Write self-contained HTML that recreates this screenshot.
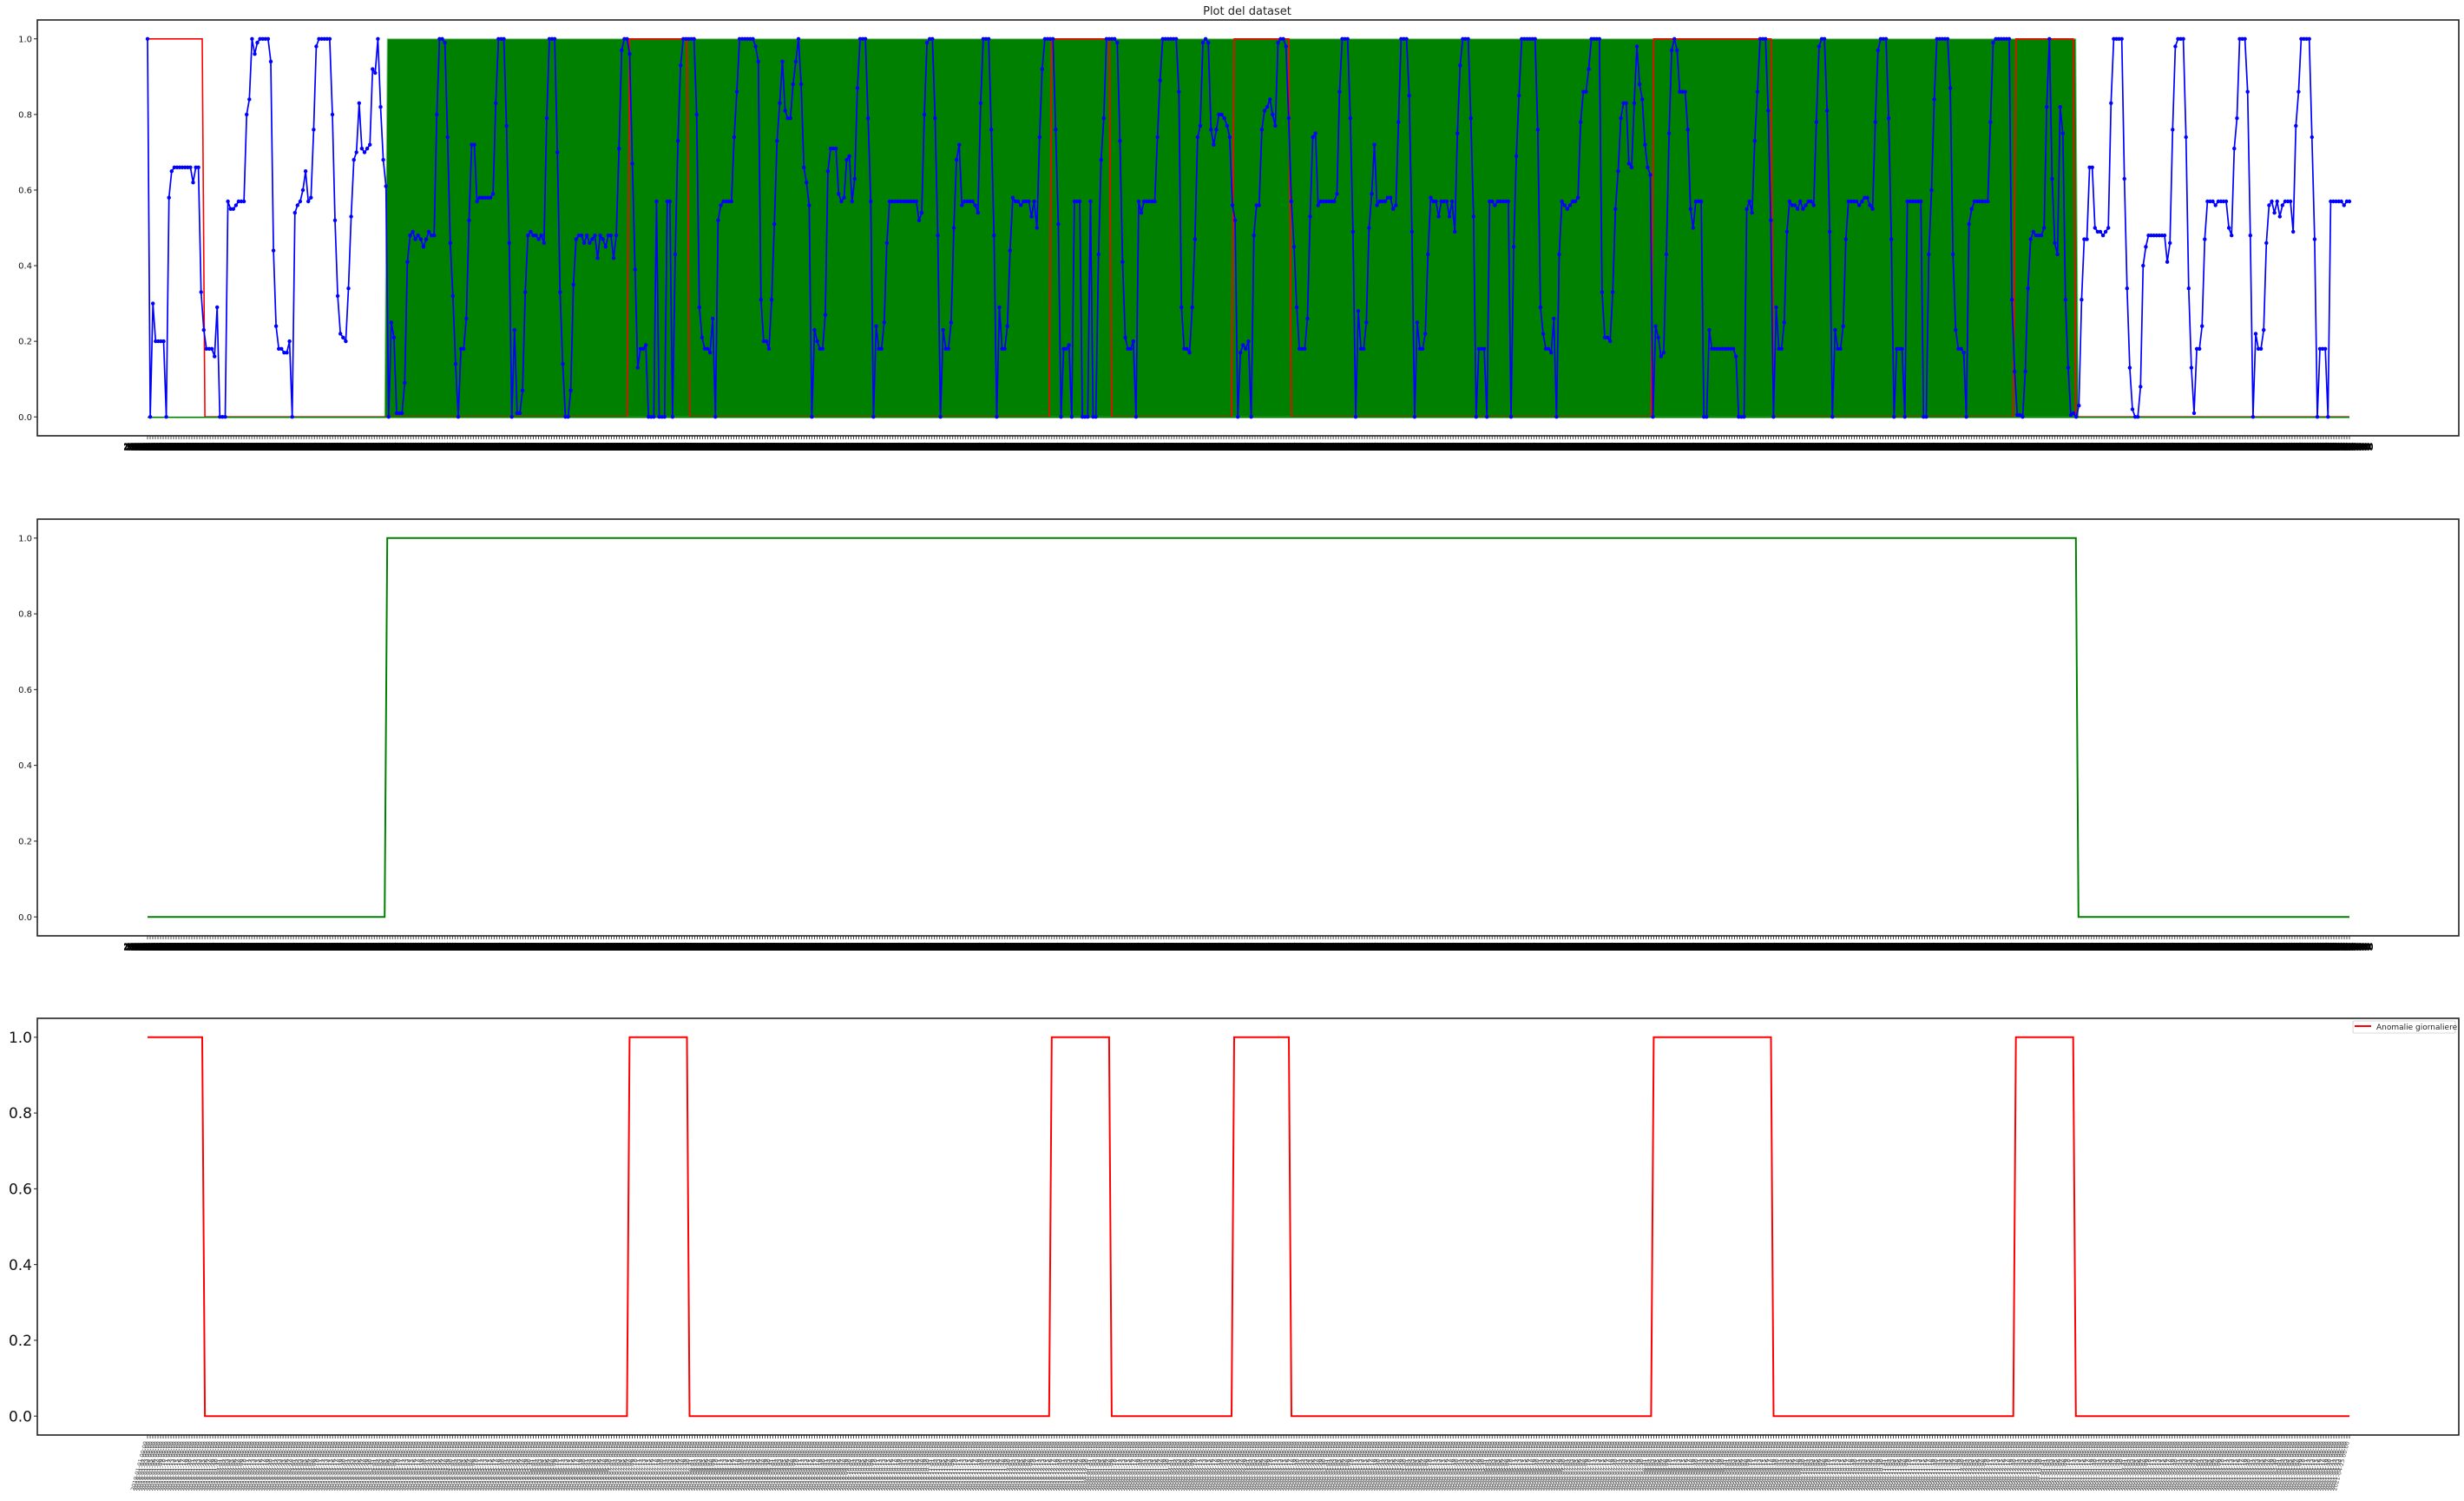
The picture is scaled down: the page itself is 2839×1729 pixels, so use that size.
<!DOCTYPE html>
<html><head><meta charset="utf-8"><title>Plot del dataset</title>
<style>html,body{margin:0;padding:0;background:#fff;}svg{display:block;font-family:"DejaVu Sans","Liberation Sans",sans-serif;}</style>
</head><body>
<svg id="fig" width="2839" height="1729" viewBox="0 0 2839 1729" xmlns="http://www.w3.org/2000/svg">
<rect x="0" y="0" width="2839" height="1729" fill="#fff"/>
<text x="1437" y="17" font-size="13" text-anchor="middle" fill="#222">Plot del dataset</text>
<g id="p1"></g>
<g id="p2"></g>
<g id="p3"></g>
</svg>
<script>
const NDAYS = 846;
const startDate = "2019-01-01";
const yTicks = [0.0, 0.2, 0.4, 0.6, 0.8, 1.0];
const yTickLabels = ["0.0", "0.2", "0.4", "0.6", "0.8", "1.0"];
const greenStart = 92;
const greenEnd = 740;
const anomalyStart = [0, 185, 347, 417, 578, 717];
const anomalyEnd = [21, 207, 369, 438, 623, 739];
const blueValues = [
1.0,0,0.3,0.2,0.2,0.2,0.2,0,0.58,0.65,0.66,0.66,0.66,0.66,0.66,0.66,0.66,0.62,0.66,0.66,
0.33,0.23,0.18,0.18,0.18,0.16,0.29,0,0,0,0.57,0.55,0.55,0.56,0.57,0.57,0.57,0.8,0.84,1.0,
0.96,0.99,1.0,1.0,1.0,1.0,0.94,0.44,0.24,0.18,0.18,0.17,0.17,0.2,0,0.54,0.56,0.57,0.6,0.65,
0.57,0.58,0.76,0.98,1,1,1,1,1,0.8,0.52,0.32,0.22,0.21,0.2,0.34,0.53,0.68,0.7,0.83,
0.71,0.7,0.71,0.72,0.92,0.91,1.0,0.82,0.68,0.61,0,0.25,0.21,
0.01,0.01,0.01,0.09,0.41,0.48,0.49,0.47,0.48,0.47,0.45,0.47,0.49,0.48,0.48,0.8,1.0,1.0,0.99,0.74,
0.46,0.32,0.14,0,0.18,0.18,0.26,0.52,0.72,0.72,0.57,0.58,0.58,0.58,0.58,0.58,0.59,0.83,1.0,1.0,
1.0,0.77,0.46,0,0.23,0.01,0.01,0.07,0.33,0.48,0.49,0.48,0.48,0.47,0.48,0.46,0.79,1.0,1.0,1.0,
0.7,0.33,0.14,0,0,0.07,0.35,0.47,0.48,0.48,0.46,0.48,0.46,0.47,0.48,0.42,0.48,0.47,0.45,0.48,
0.48,0.42,0.48,0.71,0.97,1,1,0.96,0.67,0.39,0.13,0.18,0.18,0.19,0,0,0,0.57,0,0,
0,0.57,0.57,0,0.43,0.73,0.93,1,1,1,1,1,0.8,0.29,0.21,0.18,0.18,0.17,0.26,0,
0.52,0.56,0.57,0.57,0.57,0.57,0.74,0.86,1,1,1,1,1,1,0.98,0.94,0.31,0.2,0.2,0.18,
0.31,0.51,0.73,0.83,0.94,0.81,0.79,0.79,0.88,0.94,1,0.88,0.66,0.62,0.56,0,0.23,0.2,0.18,0.18,
0.27,0.65,0.71,0.71,0.71,0.59,0.57,0.58,0.68,0.69,0.57,0.63,0.87,1,1,1,0.79,0.57,0,0.24,
0.18,0.18,0.25,0.46,0.57,0.57,0.57,0.57,0.57,0.57,0.57,0.57,0.57,0.57,0.57,0.52,0.54,0.8,0.99,1,
1,0.79,0.48,0,0.23,0.18,0.18,0.25,0.5,0.68,0.72,0.56,0.57,0.57,0.57,0.57,0.56,0.54,0.83,1,
1,1,0.76,0.48,0,0.29,0.18,0.18,0.24,0.44,0.58,0.57,0.57,0.56,0.57,0.57,0.57,0.53,0.57,0.5,
0.74,0.92,1,1,1,1,0.76,0.51,0,0.18,0.18,0.19,0,0.57,0.57,0.57,0,0,0,0.57,
0,0,0.43,0.68,0.79,1,1,1,1,0.99,0.73,0.41,0.21,0.18,0.18,0.2,0,0.57,0.54,0.57,
0.57,0.57,0.57,0.57,0.74,0.89,1,1,1,1,1,1,0.86,0.29,0.18,0.18,0.17,0.29,0.47,0.74,
0.77,0.99,1,0.99,0.76,0.72,0.76,0.8,0.8,0.79,0.77,0.74,
0.56,0.52,0,0.17,0.19,0.18,0.2,0,0.48,0.56,0.56,0.76,0.81,0.82,0.84,0.8,0.77,0.99,1,1,
0.98,0.79,0.57,0.45,0.29,0.18,0.18,0.18,0.26,0.53,0.74,0.75,0.56,0.57,0.57,0.57,0.57,0.57,0.57,0.59,
0.86,1,1,1,0.79,0.49,0,0.28,0.18,0.18,0.25,0.5,0.59,0.72,0.56,0.57,0.57,0.57,0.58,0.58,
0.55,0.56,0.78,1,1,1,0.85,0.49,0,0.25,0.18,0.18,0.22,0.43,0.58,0.57,0.57,0.53,0.57,0.57,
0.57,0.53,0.57,0.49,0.75,0.93,1,1,1,0.79,0.53,0,0.18,0.18,0.18,0,0.57,0.57,0.56,0.57,
0.57,0.57,0.57,0.57,0,0.45,0.69,0.85,1,1,1,1,1,1,0.76,0.29,0.22,0.18,0.18,0.17,
0.26,0,0.43,0.57,0.56,0.55,0.56,0.57,0.57,0.58,0.78,0.86,0.86,0.92,1,1,1,1,0.33,0.21,
0.21,0.2,0.33,0.55,0.65,0.79,0.83,0.83,0.67,0.66,0.83,0.98,0.88,0.84,0.72,0.66,0.64,0,0.24,0.21,
0.16,0.17,0.43,0.75,0.97,1,0.97,0.86,0.86,0.86,0.76,0.55,0.5,0.57,0.57,0.57,0,0,0.23,0.18,
0.18,0.18,0.18,0.18,0.18,0.18,0.18,0.18,0.16,0,0,0,0.55,0.57,0.54,0.73,0.86,1,1,1,
0.81,0.52,0,0.29,0.18,0.18,0.25,0.49,0.57,0.56,0.56,0.55,0.57,0.55,0.56,0.57,0.57,0.56,0.78,0.98,
1,1,0.81,0.49,0,0.23,0.18,
0.18,0.24,0.47,0.57,0.57,0.57,0.57,0.56,0.57,0.58,0.58,0.56,0.55,0.78,0.97,1,1,1,0.79,0.47,
0,0.18,0.18,0.18,0,0.57,0.57,0.57,0.57,0.57,0.57,0,0,0.43,0.6,0.84,1,1,1,1,
1,0.87,0.43,0.23,0.18,0.18,0.17,0,0.51,0.55,0.57,0.57,0.57,0.57,0.57,0.57,0.78,0.99,1,1,
1,1,1,1,0.31,0.12,0.005,0.005,0,0.12,0.34,0.47,0.49,0.48,0.48,0.48,0.5,0.82,1,0.63,
0.46,0.43,0.82,0.75,0.31,0.13,0.005,0.01,0,0.03,0.31,0.47,0.47,0.66,0.66,0.5,0.49,0.49,0.48,0.49,
0.5,0.83,1,1,1,1,0.63,0.34,0.13,0.02,0,0,0.08,0.4,0.45,0.48,0.48,0.48,0.48,0.48,
0.48,0.48,0.41,0.46,0.76,0.98,1,1,1,0.74,0.34,0.13,0.01,0.18,0.18,0.24,0.47,0.57,0.57,0.57,
0.56,0.57,0.57,0.57,0.57,0.5,0.48,0.71,0.79,1,1,1,0.86,0.48,0,0.22,0.18,0.18,0.23,0.46,
0.56,0.57,0.54,0.57,0.53,0.56,0.57,0.57,0.57,0.49,0.77,0.86,1,1,1,1,0.74,0.47,0,0.18,
0.18,0.18,0,0.57,0.57,0.57,0.57,0.57,0.56,0.57,0.57
];

const NS = "http://www.w3.org/2000/svg";
const X0 = 170, X1 = 2707;
function xScale(i){ return X0 + i * (X1 - X0) / (NDAYS - 1); }
const panels = [
  {id:"p1", top:23, bottom:502, tickFont:10, band:true},
  {id:"p2", top:598, bottom:1078, tickFont:10, band:true},
  {id:"p3", top:1173, bottom:1653, tickFont:17, band:false}
];
function yScaleFor(p){ const h = p.bottom - p.top; return v => p.bottom - (v + 0.05) / 1.1 * h; }
function el(tag, attrs, parent){ const e = document.createElementNS(NS, tag); for (const k in attrs) e.setAttribute(k, attrs[k]); parent.appendChild(e); return e; }
function dateLabel(i){ const d = new Date(Date.UTC(2019,0,1) + i*86400000); return d.toISOString().slice(0,16).replace("T"," "); }
function stepPoints(ys){
  const pts = [];
  for (let k = 0; k < anomalyStart.length; k++){
    const s = anomalyStart[k], e = anomalyEnd[k];
    if (s > 0) pts.push([s-1,0]);
    pts.push([s,1]); pts.push([e,1]); pts.push([e+1,0]);
  }
  pts.push([NDAYS-1,0]);
  return pts.map(p => xScale(p[0]).toFixed(1)+","+ys(p[1]).toFixed(1)).join(" ");
}
function greenPoints(ys){
  const pts = [[0,0],[greenStart-1,0],[greenStart,1],[greenEnd,1],[greenEnd+1,0],[NDAYS-1,0]];
  return pts.map(p => xScale(p[0]).toFixed(1)+","+ys(p[1]).toFixed(1)).join(" ");
}

panels.forEach((p, pi) => {
  const g = document.getElementById(p.id);
  const ys = yScaleFor(p);
  const plot = el("g", {}, g);
  
  

  if (pi === 0){
    const fill = el("polygon", {points: xScale(greenStart-1)+","+ys(0)+" "+xScale(greenStart)+","+ys(1)+" "+xScale(greenEnd)+","+ys(1)+" "+xScale(greenEnd+1)+","+ys(0), fill:"#008000", stroke:"#7fbf7f", "stroke-width":"1"}, plot);
    
    
    const rl = el("polyline", {points: stepPoints(ys), fill:"none", stroke:"#ff0000", "stroke-width":"1.6"}, plot);
    
    
    const gl = el("line", {x1:xScale(0), y1:ys(0)+0.5, x2:xScale(NDAYS-1), y2:ys(0)+0.5, stroke:"#008000", "stroke-width":"1.6"}, plot);
    
    
    const n = blueValues.length;
    const bx = k => xScale(k * (NDAYS - 1) / (n - 1));
    const bl = el("polyline", {points: blueValues.map((v,k) => bx(k).toFixed(1)+","+ys(v).toFixed(1)).join(" "), fill:"none", stroke:"#0000ff", "stroke-width":"1.7", "stroke-linejoin":"round"}, plot);
    
    
    const mg = el("g", {fill:"#0000ff"}, plot);
    
    
    blueValues.forEach((v,k) => {
      const c = el("circle", {cx:bx(k).toFixed(1), cy:ys(v).toFixed(1), r:"2.2"}, mg);
      
      
    });
  } else if (pi === 1){
    const gl = el("polyline", {points: greenPoints(ys), fill:"none", stroke:"#008000", "stroke-width":"2"}, plot);
    
    
  } else {
    const rl = el("polyline", {points: stepPoints(ys), fill:"none", stroke:"#ff0000", "stroke-width":"2"}, plot);
    
    
  }

  const frame = el("rect", {x:43, y:p.top, width:2833-43, height:p.bottom-p.top, fill:"none", stroke:"#222", "stroke-width":"1.6"}, g);
  
  

  const yax = el("g", {}, g);
  
  
  yTicks.forEach((t, k) => {
    const y = ys(t);
    const tk = el("line", {x1:39, y1:y, x2:43, y2:y, stroke:"#222", "stroke-width":"1"}, yax);
    
    
    const tx = el("text", {x:37, y:y + p.tickFont*0.36, "font-size":p.tickFont, "text-anchor":"end", fill:"#111"}, yax);
    tx.textContent = yTickLabels[k];
    
    
  });

  const xax = el("g", {}, g);
  
  
  let tickPath = "";
  for (let i = 0; i < NDAYS; i++){ const x = xScale(i).toFixed(1); tickPath += "M"+x+" "+p.bottom+"V"+(p.bottom+4); }
  const tp = el("path", {d:tickPath, stroke:"#222", "stroke-width":"0.8"}, xax);
  
  
  const lg = p.band
    ? el("g", {fill:"#000", stroke:"#000", "stroke-width":"1.6", "font-size":"10"}, xax)
    : el("g", {fill:"#444", "font-size":"6.5"}, xax);
  
  
  for (let i = 0; i < NDAYS; i++){
    const x = xScale(i);
    let t;
    if (p.band){
      t = el("text", {x:x.toFixed(1), y:p.bottom+16, "text-anchor":"middle", "textLength":"54", "lengthAdjust":"spacingAndGlyphs"}, lg);
    } else {
      t = el("text", {x:0, y:0, "text-anchor":"end", transform:"translate("+x.toFixed(1)+","+(p.bottom+8)+") rotate(-75)"}, lg);
    }
    t.textContent = dateLabel(i);
    
    
  }

  if (pi === 2){
    const leg = el("g", {}, g);
    
    
    const box = el("rect", {x:2711, y:1176, width:118, height:14, fill:"#fff", stroke:"#ccc", "stroke-width":"0.8", rx:"1.5"}, leg);
    
    
    const ln = el("line", {x1:2713, y1:1182, x2:2732, y2:1182, stroke:"#ff0000", "stroke-width":"2"}, leg);
    
    
    const lt = el("text", {x:2738, y:1186, "font-size":"9", fill:"#222"}, leg);
    lt.textContent = "Anomalie giornaliere";
    
    
  }
});
</script>
</body></html>
